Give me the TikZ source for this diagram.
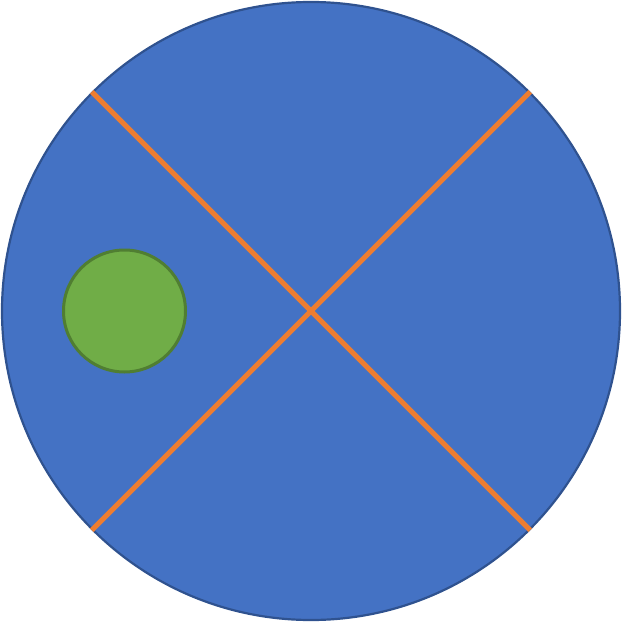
\documentclass[tikz,border=0pt]{standalone}
\usetikzlibrary{calc}
\definecolor{bigblue}{HTML}{4472C4}
\definecolor{bigblueedge}{HTML}{2F528F}
\definecolor{lineorange}{HTML}{ED7D31}
\definecolor{dotgreen}{HTML}{70AD47}
\definecolor{dotgreenedge}{HTML}{507E32}
\tikzset{
  bigdisc/.style={circle, fill=bigblue, draw=bigblueedge, line width=2.2pt, minimum size=618pt, inner sep=0pt},
  smalldisc/.style={circle, fill=dotgreen, draw=dotgreenedge, line width=3pt, minimum size=122pt, inner sep=0pt},
  cutline/.style={draw=lineorange, line width=5pt}
}
\begin{document}
\begin{tikzpicture}[x=1pt,y=-1pt]
\useasboundingbox (0,0) rectangle (623,623);
\node[bigdisc] (big) at (311,311) {};
\coordinate (c) at (311,311);
\coordinate (tl) at ($(c)+(-219.2,-219.2)$);
\coordinate (br) at ($(c)+(219.2,219.2)$);
\coordinate (tr) at ($(c)+(219.2,-219.2)$);
\coordinate (bl) at ($(c)+(-219.2,219.2)$);
\draw[cutline] (tl) -- (br);
\draw[cutline] (tr) -- (bl);
\node[smalldisc] (dot) at (124.5,311) {};
\end{tikzpicture}
\end{document}
